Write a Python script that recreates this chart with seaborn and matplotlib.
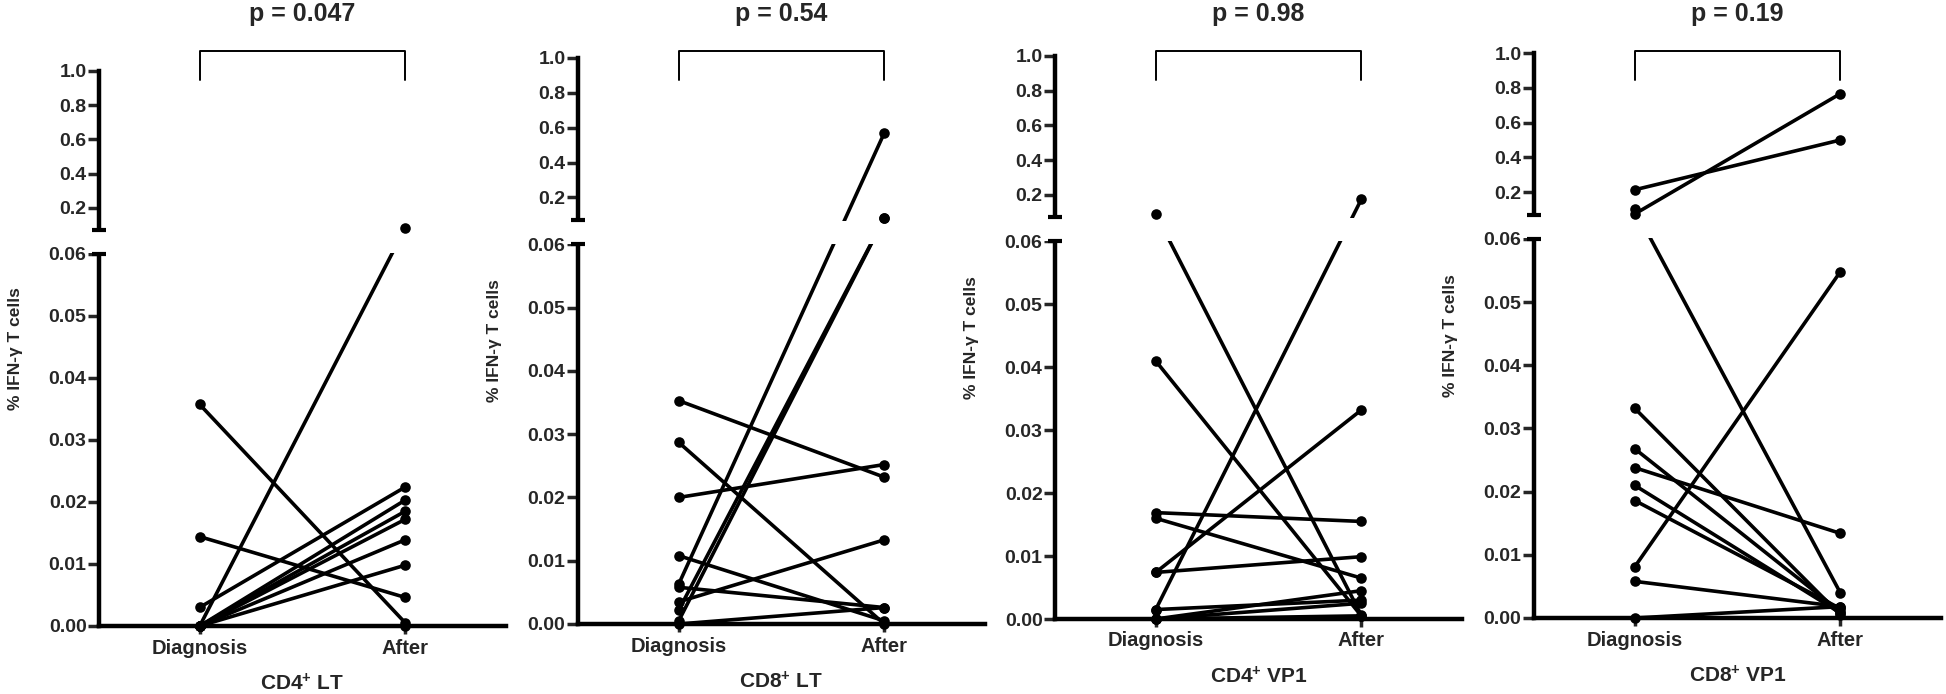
import numpy as np
import pandas as pd
import matplotlib
matplotlib.use("Agg")
import matplotlib.pyplot as plt
import matplotlib.transforms as mtransforms
from matplotlib.patches import Rectangle
import seaborn as sns

# values, one pair per subject (Diagnosis, After)
cd4_lt_diag = [0.0357, 0.0144, 0.0030, 0.0, 0.0, 0.0, 0.0, 0.0, 0.0, 0.0]
cd4_lt_after = [0.0005, 0.0046, 0.0224, 0.082, 0.0203, 0.0185, 0.0172, 0.0139, 0.0098, 0.0]

cd8_lt_diag = [0.0353, 0.0287, 0.0200, 0.0108, 0.0058, 0.0063, 0.0035, 0.0022, 0.0005, 0.0]
cd8_lt_after = [0.0232, 0.0, 0.0252, 0.0005, 0.0026, 0.57, 0.0133, 0.080, 0.080, 0.0026]

cd4_vp1_diag = [0.090, 0.041, 0.0169, 0.0160, 0.0074, 0.0074, 0.0015, 0.0015, 0.0, 0.0, 0.0]
cd4_vp1_after = [0.0006, 0.0005, 0.0155, 0.0065, 0.0099, 0.0332, 0.173, 0.0030, 0.0045, 0.0025, 0.0005]

cd8_vp1_diag = [0.214, 0.075, 0.104, 0.0332, 0.0268, 0.0238, 0.0210, 0.0186, 0.0081, 0.0058, 0.0]
cd8_vp1_after = [0.50, 0.766, 0.0040, 0.0005, 0.0010, 0.0134, 0.0008, 0.0015, 0.0548, 0.0018, 0.0018]

panel_names = ["CD4$^{+}$ LT", "CD8$^{+}$ LT", "CD4$^{+}$ VP1", "CD8$^{+}$ VP1"]
p_values = ["p = 0.047", "p = 0.54", "p = 0.98", "p = 0.19"]
time_labels = ["Diagnosis", "After"]

bottom_ticks = [0.0, 0.01, 0.02, 0.03, 0.04, 0.05, 0.06]
top_ticks = [0.2, 0.4, 0.6, 0.8, 1.0]

panels = [
    (cd4_lt_diag, cd4_lt_after),
    (cd8_lt_diag, cd8_lt_after),
    (cd4_vp1_diag, cd4_vp1_after),
    (cd8_vp1_diag, cd8_vp1_after),
]

# broken axis: 0-0.06 on the lower part, 0.07-1.0 on the upper part
KNOTS_Y = [0.0, 0.06, 0.07, 1.0]
KNOTS_S = [0.0, 377.0, 401.0, 562.0]
BREAK_LO, BREAK_HI = 0.06, 0.07


def fwd(y):
    return np.interp(y, KNOTS_Y, KNOTS_S)


def inv(s):
    return np.interp(s, KNOTS_S, KNOTS_Y)


sns.set_style("ticks")
plt.rcParams["font.family"] = ["Liberation Sans", "DejaVu Sans"]
plt.rcParams["font.weight"] = "bold"
plt.rcParams["axes.labelweight"] = "bold"
plt.rcParams["mathtext.fontset"] = "custom"
plt.rcParams["mathtext.rm"] = "Liberation Sans:bold"
plt.rcParams["mathtext.bf"] = "Liberation Sans:bold"
plt.rcParams["mathtext.it"] = "Liberation Sans:bold"

W, H = 1946, 694
fig = plt.figure(figsize=(W / 100, H / 100), dpi=100)

# axes boxes in pixels: left spine x, y of 1.0, y of 0.0
boxes = [(99, 71, 626), (578, 58, 624), (1055, 56, 619), (1534, 53, 618)]
AX_W = 407

for i, ((diag, after), (x0, ytop, ybot)) in enumerate(zip(panels, boxes)):
    ax = fig.add_axes([x0 / W, 1 - ybot / H, AX_W / W, (ybot - ytop) / H])

    n = len(diag)
    df = pd.DataFrame({
        "subject": list(range(n)) * 2,
        "time": [0] * n + [1] * n,
        "value": list(diag) + list(after),
    })

    sns.lineplot(data=df, x="time", y="value", units="subject", estimator=None,
                 color="black", linewidth=2.6, ax=ax, legend=False, zorder=2)
    for ln in ax.lines:
        ln.set_clip_on(False)
        ln.set_solid_capstyle("butt")
    sns.scatterplot(data=df, x="time", y="value", color="black", s=58,
                    linewidth=0, ax=ax, legend=False, zorder=4, clip_on=False)

    ax.set_yscale("function", functions=(fwd, inv))
    ax.set_ylim(0, 1.0)
    ax.set_xlim(-0.49, 1.49)

    ax.set_xticks([0, 1], time_labels)
    ax.set_yticks(bottom_ticks + top_ticks,
                  [f"{v:.2f}" for v in bottom_ticks] + [f"{v:.1f}" for v in top_ticks])
    ax.tick_params(axis="y", direction="out", length=8, width=2.5, labelsize=14, pad=1)
    ax.tick_params(axis="x", direction="out", length=6, width=2.5, labelsize=14.5, pad=3)
    for lab in ax.get_xticklabels() + ax.get_yticklabels():
        lab.set_fontweight("bold")

    sns.despine(ax=ax)
    for side in ["left", "bottom"]:
        ax.spines[side].set_linewidth(3.2)
        ax.spines[side].set_color("black")

    # blank the gap between the two y segments
    blend = mtransforms.blended_transform_factory(ax.transAxes, ax.transData)
    ax.add_patch(Rectangle((-0.03, BREAK_LO + 0.0003), 1.04, BREAK_HI - BREAK_LO - 0.0006,
                           transform=blend, facecolor="white", edgecolor="none",
                           zorder=2.7, clip_on=False))
    for yb in (BREAK_LO, BREAK_HI):
        ax.plot([-0.018, 0.016], [yb, yb], transform=blend, color="black",
                linewidth=3, zorder=3, clip_on=False, solid_capstyle="butt")

    ax.set_ylabel("% IFN-\u03b3 T cells", fontsize=12.5, fontweight="bold")
    ax.yaxis.set_label_coords(-76 / AX_W, 0.5)
    ax.set_xlabel(panel_names[i], fontsize=15, fontweight="bold")
    ax.xaxis.set_label_coords(0.5, -47 / (ybot - ytop))

    # significance bracket and p-value, fixed in figure height
    fblend = mtransforms.blended_transform_factory(ax.transData, fig.transFigure)
    y_br = 1 - 51 / H
    y_leg = 1 - 80 / H
    ax.plot([0, 0, 1, 1], [y_leg, y_br, y_br, y_leg], transform=fblend,
            color="black", linewidth=1.4, clip_on=False)
    ax.text(0.5, 1 - 14 / H, p_values[i], transform=fblend, ha="center",
            va="center", fontsize=18, fontweight="bold")

fig.savefig("out.png", dpi=100)
